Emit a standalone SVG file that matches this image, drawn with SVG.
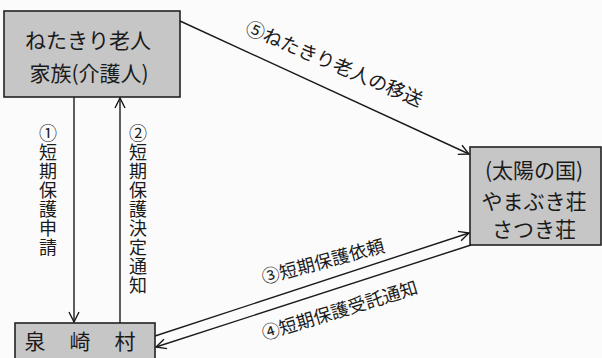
<svg xmlns="http://www.w3.org/2000/svg" width="602" height="358" viewBox="0 0 602 358">
<defs>
<style>
.box{fill:#c6c6c6;stroke:#222;stroke-width:1.6}
.t{font-family:"Noto Sans CJK JP","Noto Sans",sans-serif;fill:#1a1a1a}
.c{stroke:#1a1a1a;stroke-width:1.4;fill:none}
</style>
<marker id="ah" viewBox="0 0 12 12" refX="11" refY="6" markerWidth="12" markerHeight="12" markerUnits="userSpaceOnUse" orient="auto">
<path d="M1,1 L11,6 L1,11" fill="none" stroke="#1a1a1a" stroke-width="1.4"/>
</marker>
</defs>
<rect width="602" height="358" fill="#fbfbfb"/>
<g id="family">
<rect class="box" x="4" y="11" width="176" height="86"/>
<text class="t" x="88" y="48" font-size="21" text-anchor="middle">ねたきり老人</text>
<text class="t" x="89" y="81" font-size="21" text-anchor="middle">家族(介護人)</text>
</g>
<g id="facility">
<rect class="box" x="470" y="147" width="131" height="98"/>
<text class="t" x="534" y="178" font-size="21" text-anchor="middle">(太陽の国)</text>
<text class="t" x="534" y="209" font-size="21" text-anchor="middle">やまぶき荘</text>
<text class="t" x="534" y="237" font-size="21" text-anchor="middle">さつき荘</text>
</g>
<g id="village">
<rect class="box" x="15" y="323" width="140" height="40"/>
<text class="t" x="35" y="349" font-size="21" text-anchor="middle">泉</text>
<text class="t" x="80" y="349" font-size="21" text-anchor="middle">崎</text>
<text class="t" x="125" y="349" font-size="21" text-anchor="middle">村</text>
</g>
<g id="connectors">
<line class="c" x1="74" y1="97" x2="74" y2="322" marker-end="url(#ah)"/>
<line class="c" x1="120" y1="323" x2="120" y2="98" marker-end="url(#ah)"/>
<line class="c" x1="180" y1="21" x2="469" y2="154" marker-end="url(#ah)"/>
<line class="c" x1="155" y1="336" x2="469" y2="233" marker-end="url(#ah)"/>
<line class="c" x1="471" y1="245" x2="156" y2="347" marker-end="url(#ah)"/>
</g>
<g id="labels">
<g class="t" font-size="18" text-anchor="middle">
<text x="48" y="140">①</text>
<text x="48" y="159">短</text>
<text x="48" y="178">期</text>
<text x="48" y="197">保</text>
<text x="48" y="216">護</text>
<text x="48" y="235">申</text>
<text x="48" y="254">請</text>
<text x="138" y="140">②</text>
<text x="138" y="159">短</text>
<text x="138" y="178">期</text>
<text x="138" y="197">保</text>
<text x="138" y="216">護</text>
<text x="138" y="235">決</text>
<text x="138" y="254">定</text>
<text x="138" y="273">通</text>
<text x="138" y="292">知</text>
</g>
<text class="t" font-size="19" transform="translate(255,30) rotate(23)" x="-9" y="7">⑤ねたきり老人の移送</text>
<text class="t" font-size="18" transform="translate(271,276) rotate(-15)" x="-9" y="6">③短期保護依頼</text>
<text class="t" font-size="18" transform="translate(271,332) rotate(-17)" x="-9" y="6">④短期保護受託通知</text>
</g>
</svg>
